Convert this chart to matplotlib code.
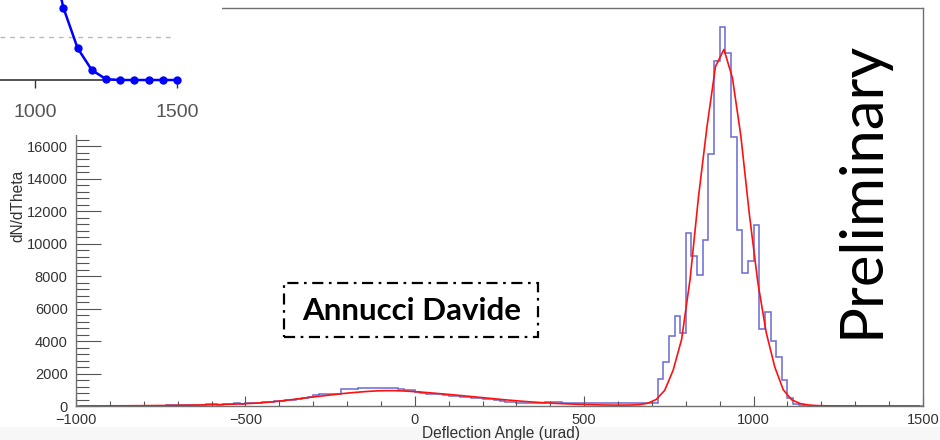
import matplotlib
matplotlib.use('Agg')
import matplotlib.pyplot as plt
import numpy as np
from matplotlib.patches import Rectangle
from matplotlib.ticker import MultipleLocator

# ---------------- data ----------------
hist_range = (-1000, 1500)
n_bins = 150
hist_counts = [
    4, 6, 3, 8, 10, 7, 12, 9, 15, 14, 18, 22, 20, 26, 30, 28, 35, 40,
    45, 52, 48, 60, 70, 100, 95, 85, 110, 120, 160, 150,
    170, 190, 210, 250, 260, 300, 330, 370, 400, 450, 500, 540,
    700, 720, 740, 730, 760,
    1030, 1040, 1060, 1080, 1090, 1110, 1120, 1130, 1110,
    1090, 1070, 1000, 960, 880, 780, 730, 720, 710, 700, 600, 590, 580, 530, 520, 480, 460, 420,
    380, 300, 260, 230, 210, 205, 200, 210, 200, 250, 255, 245,
    200, 195, 200, 205, 200, 195, 200, 190, 170, 165, 170, 160, 165, 160, 170, 165, 200,
    1640, 2730, 4330, 5540, 4510, 10670, 9230, 8060, 10220, 15510, 21230, 23300, 21740,
    16570, 10830, 8170, 8920, 11140, 4720, 5770, 4020, 3040, 1600, 490, 150,
    40, 20, 10, 5, 3, 2, 0, 0, 0, 0, 0, 0, 0, 0, 0, 0, 0, 0, 0, 0, 0, 0,
]

fit_x = np.arange(-987.5, 1500, 25)
fit_y = [
    5, 6, 7, 9, 11, 13, 16, 19, 23, 27,
    32, 38, 44, 51, 60, 70, 82, 96, 112, 130,
    155, 185, 225, 270, 330, 395, 460, 525, 585, 645,
    705, 765, 815, 860, 900, 930, 945, 945, 930, 900,
    865, 825, 780, 735, 690, 640, 590, 540, 490, 440,
    390, 345, 300, 260, 225, 195, 165, 140, 118, 100,
    85, 72, 62, 55, 55, 60, 85, 170, 400, 960,
    2200, 4100, 7800, 12900, 17200, 20900, 21950, 20200, 16600, 11800,
    7600, 4500, 2400, 1000, 380, 150, 60, 25, 12, 8,
    6, 5, 4, 3, 3, 2, 2, 2, 1, 1,
]

inset_x = [1000, 1050, 1100, 1150, 1200, 1250, 1300, 1350, 1400, 1450, 1500]
inset_y = [2.6, 1.55, 0.84, 0.37, 0.116, 0.01, 0.0, 0.0, 0.0, 0.0, 0.0]
inset_ref = 0.5

x_ticks = [-1000, -500, 0, 500, 1000, 1500]
y_ticks = [0, 2000, 4000, 6000, 8000, 10000, 12000, 14000, 16000]
inset_ticks = [1000, 1500]

# ---------------- layout helpers ----------------
W, H = 940, 440
fig = plt.figure(figsize=(9.4, 4.4), dpi=100)
fig.patch.set_facecolor('white')


def fx(px):
    return px / W


def fy(py):
    return 1 - py / H

# light band at bottom of slide
fig.add_artist(Rectangle((0, 0), 1, 13 / H, transform=fig.transFigure,
                         facecolor='#f7f7f7', edgecolor='none', zorder=-5))

# ---------------- main axes ----------------
ax = fig.add_axes([fx(76), fy(406), (923 - 76) / W, (406 - 8) / H])
ax.set_zorder(0)
edges = np.linspace(hist_range[0], hist_range[1], n_bins + 1)
ax.stairs(hist_counts, edges, color='#6a6ad6', lw=1.1, baseline=0)
ax.plot(fit_x, fit_y, color='#ff1010', lw=1.2)
ax.set_xlim(-1000, 1500)
ax.set_ylim(0, 24500)
ax.set_xticks(x_ticks)
ax.set_yticks(y_ticks)
ax.xaxis.set_minor_locator(MultipleLocator(100))
ax.yaxis.set_minor_locator(MultipleLocator(400))
for s in ax.spines.values():
    s.set_color('#707070')
    s.set_linewidth(1.0)
tick_font = 'Liberation Sans'
ax.tick_params(axis='x', which='major', direction='in', length=7.2, width=0.8,
               color='#555555', labelsize=10.5, labelcolor='#333333', pad=5)
ax.tick_params(axis='x', which='minor', direction='in', length=3.6, width=0.8, color='#555555')
ax.tick_params(axis='y', which='major', direction='in', length=18, width=0.8,
               color='#555555', labelsize=10.5, labelcolor='#333333', pad=6)
ax.tick_params(axis='y', which='minor', direction='in', length=9, width=0.8, color='#555555')
for lab in ax.get_xticklabels() + ax.get_yticklabels():
    lab.set_fontfamily(tick_font)

fig.text(fx(580), fy(433), 'Deflection Angle (urad)', ha='right', va='center',
         fontsize=11.2, color='#333333', family=tick_font)
fig.text(fx(18), fy(170), 'dN/dTheta', rotation=90, ha='center', va='top',
         fontsize=11.2, color='#333333', family=tick_font)

# ---------------- inset cover + inset ----------------
fig.add_artist(Rectangle((0, fy(135)), 222 / W, 135 / H, transform=fig.transFigure,
                         facecolor='white', edgecolor='none', zorder=1))

iax = fig.add_axes([0, fy(80), 222 / W, 100 / H])
iax.set_zorder(2)
iax.patch.set_alpha(0)
xl0 = 1000 - 35 * 500 / 142
xl1 = xl0 + 222 * 500 / 142
iax.set_xlim(xl0, xl1)
iax.set_ylim(0, 100 / 86 * inset_ref / 0.5)
iax.plot([xl0, 1485], [inset_ref, inset_ref], color='#bbbbbb', lw=1.0, ls=(0, (3.5, 3.5)))
iax.plot(inset_x, inset_y, color='#0000ff', lw=1.8, marker='o', ms=5, clip_on=False,
         zorder=3)
for k in ['left', 'right', 'top']:
    iax.spines[k].set_visible(False)
iax.spines['bottom'].set_bounds(xl0, 1500)
iax.spines['bottom'].set_color('#333333')
iax.spines['bottom'].set_linewidth(1.2)
iax.set_yticks([])
iax.set_xticks(inset_ticks)
iax.tick_params(axis='x', direction='out', length=6, width=1.0, color='#333333',
                labelsize=14, labelcolor='#555555', pad=11)
for lab in iax.get_xticklabels():
    lab.set_fontfamily(tick_font)

# ---------------- annotations ----------------
fig.add_artist(Rectangle((fx(284), fy(337)), 254 / W, 54 / H, transform=fig.transFigure,
                         facecolor='none', edgecolor='black', lw=1.6,
                         ls=(0, (5, 2.5, 1.2, 2.5)), zorder=3))
fig.text(fx(412), fy(311), 'Annucci Davide', ha='center', va='center', fontsize=22.5,
         fontweight='bold', family='Lato', color='black', zorder=4)

fig.text(fx(861), fy(189), 'Preliminary', rotation=90, ha='center', va='center',
         fontsize=43, family='Lato', color='black', zorder=4)

fig.savefig('out.png', dpi=100)
